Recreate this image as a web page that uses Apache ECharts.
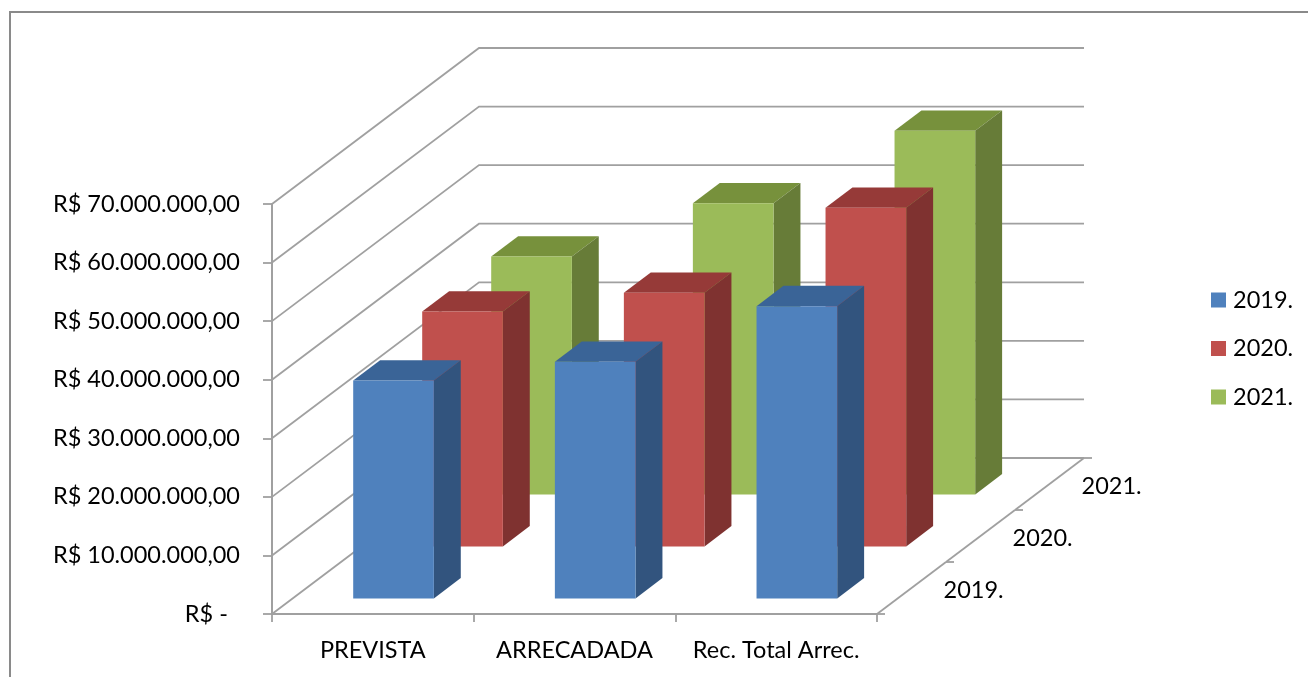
<!DOCTYPE html>
<html><head><meta charset="utf-8">
<style>html,body{margin:0;padding:0;background:#fff}#c{width:1308px;height:677px}</style>
<script src="https://cdn.jsdelivr.net/npm/echarts@6/dist/echarts.min.js"></script>
</head><body><div id="c"></div>
<script>
const categories = ['PREVISTA', 'ARRECADADA', 'Rec. Total Arrec.'];
const years = ['2019.', '2020.', '2021.'];
const values2019 = [37200000, 40400000, 49900000];
const values2020 = [40100000, 43300000, 57800000];
const values2021 = [40600000, 49700000, 62100000];
const yTicks = [0, 10000000, 20000000, 30000000, 40000000, 50000000, 60000000, 70000000];

const FONT = 'Lato';
const FS = 23.5;
const GRID = '#a0a0a0';
const DEPTH_X = 207, DEPTH_Y = -156;       // pixel vector of the whole depth axis
const BAR_W = 0.4, BAR_START = 0.3, BAR_DEPTH = 0.39; // fractions of a band / a depth row
const ROWS = years.length;
const off = (d) => [d / ROWS * DEPTH_X, d / ROWS * DEPTH_Y];
const at = (p, d) => { const o = off(d); return [p[0] + o[0], p[1] + o[1]]; };

const styles = [
  { front: '#4F81BD', side: '#32547E', top: '#3A6497' },
  { front: '#C0504D', side: '#7F3230', top: '#963A38' },
  { front: '#9BBB59', side: '#677C38', top: '#77913C' }
];

function barItem(row) {
  return function (params, api) {
    const c = api.coord([api.value(0), api.value(1)]);
    const base = api.coord([api.value(0), 0]);
    const bw = api.size([1, 0])[0] * BAR_W;
    const d0 = row + BAR_START, d1 = d0 + BAR_DEPTH;
    const l = c[0] - bw / 2, r = c[0] + bw / 2;
    const ftl = at([l, c[1]], d0), ftr = at([r, c[1]], d0);
    const fbl = at([l, base[1]], d0), fbr = at([r, base[1]], d0);
    const btl = at([l, c[1]], d1), btr = at([r, c[1]], d1), bbr = at([r, base[1]], d1);
    const s = styles[row];
    return { type: 'group', children: [
      { type: 'polygon', shape: { points: [ftl, ftr, btr, btl] }, style: { fill: s.top } },
      { type: 'polygon', shape: { points: [ftr, btr, bbr, fbr] }, style: { fill: s.side } },
      { type: 'polygon', shape: { points: [ftl, ftr, fbr, fbl] }, style: { fill: s.front } }
    ] };
  };
}

function wallItem(params, api) {
  const v = api.value(1);
  const a = api.coord([0, v]);
  const bandW = api.size([1, 0])[0];
  const p0 = [a[0] - bandW / 2, a[1]];
  const p1 = at(p0, ROWS);
  const p2 = [p1[0] + bandW * categories.length, p1[1]];
  return { type: 'polyline', shape: { points: [p0, p1, p2] },
    style: { stroke: GRID, lineWidth: 1.8, fill: null } };
}

function depthAxisItem(params, api) {
  const i = params.dataIndex;
  const bandW = api.size([1, 0])[0];
  const a = api.coord([categories.length - 1, 0]);
  const origin = [a[0] + bandW / 2, a[1]];
  const children = [];
  const t = at(origin, i);
  children.push({ type: 'line', shape: { x1: t[0], y1: t[1], x2: t[0] + 8, y2: t[1] },
    style: { stroke: GRID, lineWidth: 1.8 } });
  if (i < ROWS) {
    const e = at(origin, i + 1);
    children.push({ type: 'line', shape: { x1: t[0], y1: t[1], x2: e[0], y2: e[1] },
      style: { stroke: GRID, lineWidth: 1.8 } });
    const m = at(origin, i + 0.5);
    children.push({ type: 'text', style: { text: years[i], x: m[0] + 32, y: m[1] + 2,
      font: FS + 'px ' + FONT, fill: '#000', textAlign: 'left', textVerticalAlign: 'middle' } });
  }
  return { type: 'group', children };
}

const rowValues = [values2019, values2020, values2021];
const barSeries = [2, 1, 0].map(r => ({
  name: years[r], type: 'custom', renderItem: barItem(r),
  itemStyle: { color: styles[r].front },
  data: categories.map((c, i) => [i, rowValues[r][i]]),
  encode: { x: 0, y: 1 }, silent: true, z: 5
}));

const chart = echarts.init(document.getElementById('c'), null, { renderer: 'canvas' });
chart.setOption({
  animation: false,
  backgroundColor: '#fff',
  textStyle: { fontFamily: FONT },
  grid: { left: 272, right: 431, top: 204, bottom: 63, containLabel: false },
  xAxis: { type: 'category', data: categories, boundaryGap: true,
    axisLine: { show: true, lineStyle: { color: GRID, width: 2 } },
    axisTick: { show: true, length: 8, alignWithLabel: false, lineStyle: { color: GRID, width: 1.8 } },
    axisLabel: { color: '#000', fontSize: FS, fontFamily: FONT, margin: 24, interval: 0 },
    splitLine: { show: false } },
  yAxis: { type: 'value', min: 0, max: 70000000, interval: 10000000,
    axisLine: { show: true, lineStyle: { color: GRID, width: 2 } },
    axisTick: { show: true, length: 9, lineStyle: { color: GRID, width: 1.8 } },
    splitLine: { show: false },
    axisLabel: { color: '#000', fontSize: FS, fontFamily: FONT, margin: 32,
      formatter: (v) => v === 0 ? 'R$ -  ' :
        'R$ ' + String(v).replace(/\B(?=(\d{3})+$)/g, '.') + ',00' } },
  legend: { show: true, data: years, orient: 'vertical', left: 1211, top: 288, padding: 0,
    itemWidth: 15, itemHeight: 15, itemGap: 24.5, icon: 'rect',
    textStyle: { color: '#000', fontSize: FS, fontFamily: FONT, padding: [0, 0, 0, 2] } },
  graphic: [{ type: 'rect', z: 0, silent: true, shape: { x: 10, y: 12, width: 1340, height: 700 },
    style: { fill: null, stroke: '#8a8a8a', lineWidth: 2 } }],
  series: [
    { name: 'walls', type: 'custom', renderItem: wallItem, silent: true, z: 1,
      data: yTicks.map(v => [0, v]), encode: { x: 0, y: 1 } },
    { name: 'depth', type: 'custom', renderItem: depthAxisItem, silent: true, z: 2,
      data: [0, 1, 2, 3].map(i => [0, 0]), encode: { x: 0, y: 1 } }
  ].concat(barSeries)
});
</script></body></html>
